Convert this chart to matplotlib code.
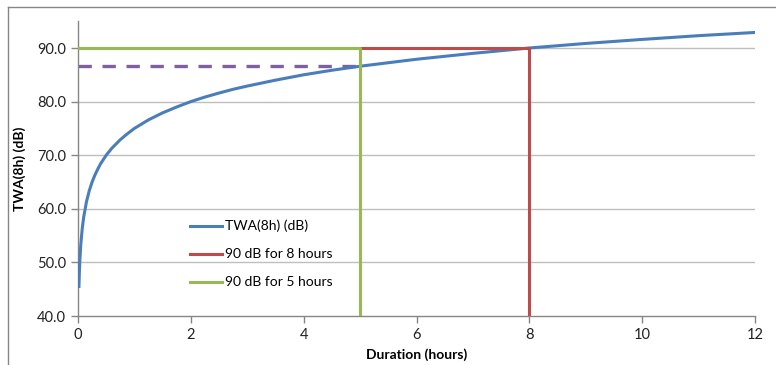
import matplotlib
matplotlib.use("Agg")
import matplotlib.pyplot as plt
from matplotlib.lines import Line2D

plt.rcParams['font.family'] = ['Lato', 'DejaVu Sans']

# TWA curve
duration = [0.0167, 0.025, 0.035, 0.05, 0.075, 0.1, 0.15, 0.2, 0.25, 0.3, 0.35, 0.4, 0.45,
            0.5, 0.6, 0.75, 0.875, 1.0, 1.25, 1.5, 1.75, 2.0, 2.25, 2.5, 2.75, 3.0, 3.5,
            4.0, 4.5, 5.0, 6.0, 7.0, 8.0, 9.0, 10.0, 11.0, 12.0]
twa = [45.5, 48.4, 50.8, 53.4, 56.3, 58.4, 61.3, 63.4, 65.0, 66.3, 67.4, 68.4, 69.2,
       70.0, 71.3, 72.9, 74.0, 75.0, 76.6, 77.9, 79.0, 80.0, 80.85, 81.6, 82.3, 82.9, 84.0,
       85.0, 85.85, 86.6, 87.9, 89.0, 90.0, 90.85, 91.6, 92.3, 92.9]

red_x = [0, 8, 8]
red_y = [90, 90, 40]
green_x = [0, 5, 5]
green_y = [90, 90, 40]
dash_x = [0, 5]
dash_y = [86.6, 86.6]

xticks = [0, 2, 4, 6, 8, 10, 12]
yticks = [40, 50, 60, 70, 80, 90]

fig = plt.figure(figsize=(7.76, 3.65), dpi=100)
ax = fig.add_axes([78/776, 49/365, (755-78)/776, (316-21.2)/365])

for y in yticks[1:]:
    ax.axhline(y, color='#BEBEBE', lw=1.0, zorder=0)

ax.plot(dash_x, dash_y, color='#7D60A0', lw=2.4, dashes=(4.0, 3.2), zorder=2,
        dash_capstyle='butt')
ax.plot(duration, twa, color='#4A7EBB', lw=2.2, label='TWA(8h) (dB)', zorder=3,
        solid_joinstyle='round')
ax.plot(red_x, red_y, color='#BE4B48', lw=2.2, label='90 dB for 8 hours', zorder=3)
ax.plot(green_x, green_y, color='#98B954', lw=2.2, label='90 dB for 5 hours', zorder=3)

ax.set_xlim(0, 12)
ax.set_ylim(40, 95)
ax.set_xticks(xticks)
ax.set_xticklabels([str(v) for v in xticks])
ax.set_yticks(yticks)
ax.set_yticklabels([f"{v:.1f}" for v in yticks])

for s in ['top', 'right']:
    ax.spines[s].set_visible(False)
for s in ['left', 'bottom']:
    ax.spines[s].set_color('#868686')
    ax.spines[s].set_linewidth(1.0)
ax.tick_params(axis='both', direction='out', length=5, width=1, color='#868686',
               labelsize=10.5, labelcolor='#222222')

ax.set_xlabel('Duration (hours)', fontsize=10, fontweight='bold', labelpad=5)
ax.set_ylabel('TWA(8h) (dB)', fontsize=10, fontweight='bold', labelpad=8)

leg = ax.legend(loc='upper left', bbox_to_anchor=(0.166, 0.326), frameon=False,
                fontsize=10, handlelength=2.3, handletextpad=0.2, labelspacing=1.15,
                borderaxespad=0, borderpad=0)

# outer chart frame
fig.add_artist(Line2D([8/776, 8/776], [0, 1 - 7/365], color='#868686', lw=1.0,
                      transform=fig.transFigure))
fig.add_artist(Line2D([8/776, 1], [1 - 7/365, 1 - 7/365], color='#868686', lw=1.0,
                      transform=fig.transFigure))

fig.savefig('out.png', dpi=100)
